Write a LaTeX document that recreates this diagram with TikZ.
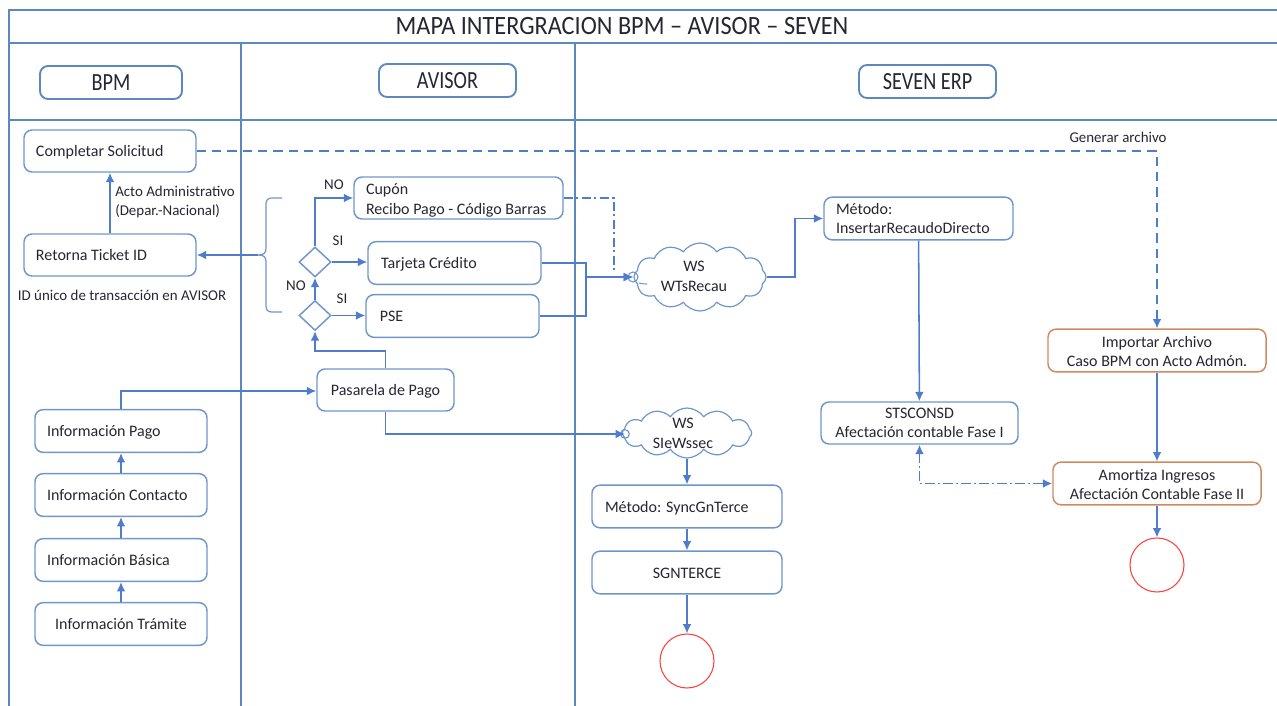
\documentclass[tikz,border=0pt]{standalone}
\usepackage{fontspec}
\setmainfont{Carlito}
\newfontfamily\headfont[FakeStretch=0.82]{Carlito}
\newfontfamily\titlefont[FakeStretch=0.92]{Carlito}
\usetikzlibrary{shapes.symbols,shapes.geometric,arrows.meta}
\definecolor{flow}{HTML}{4F7CCB}
\definecolor{edge}{HTML}{6E96CC}
\definecolor{frameblue}{HTML}{5B88BE}
\definecolor{orangeb}{HTML}{D0885E}
\definecolor{inktext}{HTML}{262633}
\newcommand{\lowa}{\rule{0pt}{10.2pt}}
\newcommand{\lowb}{\rule{0pt}{11.6pt}}
\tikzset{
  every node/.style={text=inktext,font=\fontsize{12}{14.6}\selectfont},
  boxa/.style={draw=edge,line width=1.1pt,rounded corners=6pt,inner sep=0pt,align=center},
  boxo/.style={boxa,draw=orangeb},
  boxl/.style={boxa,align=flush left},
  oneline/.style={text height=11pt,text depth=2.7pt},
  head/.style={boxa,draw=frameblue,line width=1.4pt,font=\headfont\fontsize{18.5}{20}\selectfont},
  dec/.style={diamond,draw=edge,line width=1.1pt,inner sep=0pt,minimum width=24pt,minimum height=22.5pt,shape aspect=1.07},
  wsc/.style={cloud,cloud puffs=12,cloud puff arc=110,cloud ignores aspect,draw=edge,line width=.9pt,inner sep=0pt},
  wsring/.style={circle,draw=edge,line width=.8pt,inner sep=0pt,minimum size=7.5pt},
  wstxt/.style={inner sep=0pt,align=center},
  endc/.style={circle,draw=red!75!white,line width=.8pt,inner sep=0pt,minimum size=40.5pt},
  con/.style={draw=flow,line width=1.15pt,-{Latex[length=7pt,width=6.5pt]}},
  dashdotline/.style={dash pattern=on 7pt off 2.5pt on 1.5pt off 2.5pt,line width=1.3pt},
  lbl/.style={inner sep=0pt,font=\fontsize{11.2}{14.2}\selectfont,align=flush left},
  frameline/.style={draw=frameblue,line width=.9pt}
}
\begin{document}
\begin{tikzpicture}[x=.75pt,y=-.75pt]
\useasboundingbox (0,0) rectangle (1277,706);
% frame
\draw[frameline] (9,706) -- (9,10) -- (1277,10);
\draw[frameline] (9,43) -- (1277,43);
\draw[frameline] (9,120) -- (1277,120);
\draw[frameline] (241,43) -- (241,706);
\draw[frameline] (575,43) -- (575,706);
\node[font=\titlefont\fontsize{19.8}{22}\selectfont,inner sep=0pt] (title) at (622,26) {MAPA INTERGRACION BPM – AVISOR – SEVEN};
% headers
\node[head,minimum width=106.5pt,minimum height=24.75pt] (hbpm) at (111,82.5) {BPM};
\node[head,minimum width=102.75pt,minimum height=24.75pt] (havisor) at (447.5,80.5) {AVISOR};
\node[head,minimum width=102.75pt,minimum height=24.75pt] (hseven) at (927.5,81.5) {SEVEN ERP};
% BPM
\node[boxl,oneline,minimum width=129pt,minimum height=31.5pt,text width=111pt] (completar) at (110,151) {Completar Solicitud};
\node[boxl,oneline,minimum width=129pt,minimum height=31.5pt,text width=111pt] (ticket) at (110,255) {Retorna Ticket ID};
\node[boxl,oneline,minimum width=129pt,minimum height=32pt,text width=111pt] (ipago) at (121,431) {Información Pago};
\node[boxl,oneline,minimum width=129pt,minimum height=32pt,text width=111pt] (icontacto) at (121,495) {Información Contacto};
\node[boxl,oneline,minimum width=129pt,minimum height=32pt,text width=111pt] (ibasica) at (121,560) {Información Básica};
\node[boxa,oneline,minimum width=129pt,minimum height=32pt] (itramite) at (121,624) {Información Trámite};
\node[lbl,anchor=west] (acto) at (115,202) {Acto Administrativo\\(Depar.-Nacional)};
\node[lbl] (idunico) at (122,295) {ID único de transacción en AVISOR};
% AVISOR
\node[boxl,minimum width=156.75pt,minimum height=31.5pt,text width=138.75pt] (cupon) at (458.5,198) {\lowb Cupón\\Recibo Pago - Código Barras};
\node[boxl,oneline,minimum width=129.75pt,minimum height=32pt,text width=110pt] (tarjeta) at (454.5,263) {Tarjeta Crédito};
\node[boxl,oneline,minimum width=129.75pt,minimum height=32pt,text width=109pt] (pse) at (452.5,316) {PSE};
\node[boxa,oneline,minimum width=102.75pt,minimum height=31.5pt] (pasarela) at (385.5,390) {Pasarela de Pago};
\node[dec] (d1) at (315,262) {};
\node[dec] (d2) at (315,315.5) {};
\node[lbl] (no1) at (334,185) {NO};
\node[lbl] (si1) at (338,241) {SI};
\node[lbl] (no2) at (296,286) {NO};
\node[lbl] (si2) at (342,299) {SI};
% brace
\coordinate (bt) at (282,198);
\coordinate (bb) at (282,312);
\coordinate (btip) at (258,255);
\draw[draw=edge,line width=.9pt] (bt) -- (272,198) .. controls (268,198) and (266,200) .. (266,204) -- (266,248) .. controls (266,253) and (264,255) .. (btip) .. controls (264,255) and (266,257) .. (266,262) -- (266,306) .. controls (266,310) and (268,312) .. (272,312) -- (bb);
% clouds
\node[wsc,minimum width=99pt,minimum height=51pt] (wts) at (700,277) {};
\node[wstxt] (wtstxt) at (694,276.5) {WS\\WTsRecau};
\node[wsring] (wtsring) at (633,277) {};
\draw[draw=edge,line width=.8pt] (639,283) .. controls (642,284) and (645,284) .. (647,284);
\node[wsc,minimum width=97pt,minimum height=37.5pt] (sle) at (687,433) {};
\node[wstxt] (sletxt) at (683,433.5) {WS\\SIeWssec};
\node[wsring,minimum size=6.5pt] (slering) at (625,434) {};
% SEVEN
\node[boxl,minimum width=141.75pt,minimum height=32pt,text width=123.75pt] (metodo) at (918.5,218.5) {Método:\\InsertarRecaudoDirecto};
\node[boxa,minimum width=147.75pt,minimum height=31.5pt] (sts) at (919.5,423) {STSCONSD\\Afectación contable Fase I};
\node[boxo,minimum width=163.5pt,minimum height=32pt] (importar) at (1157,350.5) {\lowa Importar Archivo\\Caso BPM con Acto Admón.};
\node[boxo,minimum width=156pt,minimum height=32pt] (amortiza) at (1157,483.5) {\lowa Amortiza Ingresos\\Afectación Contable Fase II};
\node[boxl,oneline,minimum width=142.5pt,minimum height=32pt,text width=123pt] (sync) at (687,506.5) {Método: SyncGnTerce};
\node[boxa,oneline,minimum width=142.5pt,minimum height=32pt] (sgn) at (687,572.5) {SGNTERCE};
\node[endc] (end1) at (687,661) {};
\node[endc] (end2) at (1157,565) {};
\node[lbl] (gen) at (1118,137) {Generar archivo};
% connectors
\draw[con] (ticket) -- (completar);
\draw[con] (btip) -- (ticket.east);
\draw[con] (d1.north) |- (cupon.west);
\draw[con] (d1.east) -- (d1.east -| tarjeta.west);
\draw[con] (d2.east) -- (d2.east -| pse.west);
\draw[con] (d2.north) -- (d1.south);
\draw[con] (itramite) -- (ibasica);
\draw[con] (ibasica) -- (icontacto);
\draw[con] (icontacto) -- (ipago);
\draw[con] (ipago.north) -- (121,391) -- (pasarela.west |- 0,391);
\draw[con] (pasarela.north) -- (385.5,351) -| (d2.south);
\draw[con] (pasarela.south) |- (slering.center);
\draw[con] (tarjeta.east) -- (586,263) |- (wtsring.center);
\draw[con,line width=.9pt] (pse.east) -- (586,316) |- (wtsring.center);
\draw[con,dashdotline,-] (cupon.east) -- (614,198) -- (614,273);
\draw[con] (wts.east) -- (795,277) |- (metodo.west);
\draw[con] (metodo) -- (sts);
\draw[con,dash pattern=on 7pt off 4.5pt] (completar.east) -- (1157,151) -- (importar.north);
\draw[con] (importar) -- (amortiza);
\draw[con] (amortiza) -- (end2);
\draw[con,dashdotline,{Latex[length=7pt,width=6.5pt]}-{Latex[length=7pt,width=6.5pt]}] (sts.south) |- (amortiza.west);
\draw[con] (sle.south) -- (sync.north);
\draw[con] (sync) -- (sgn);
\draw[con] (sgn) -- (end1);
\end{tikzpicture}
\end{document}
